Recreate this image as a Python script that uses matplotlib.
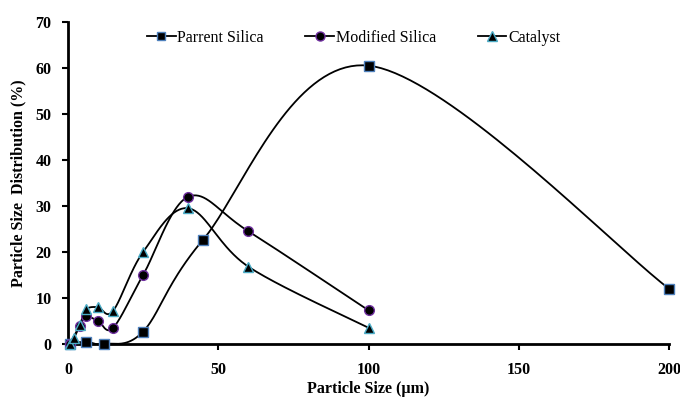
import numpy as np
import matplotlib.pyplot as plt

# Particle size distribution data
parent_x = [0.5, 6, 12, 25, 45, 100, 200]
parent_y = [0, 0.5, 0, 2.7, 22.7, 60.5, 12]

modified_x = [0.5, 4, 6, 10, 15, 25, 40, 60, 100]
modified_y = [0, 4, 6, 5, 3.5, 15, 32, 24.5, 7.3]

catalyst_x = [0.5, 2, 4, 6, 10, 15, 25, 40, 60, 100]
catalyst_y = [0, 1.3, 4.2, 7.5, 8, 7.2, 20, 29.5, 16.8, 3.5]

x_ticks = [0, 50, 100, 150, 200]
y_ticks = [0, 10, 20, 30, 40, 50, 60, 70]


def smooth(xs, ys, n=40):
    # Catmull-Rom style smoothing, like Excel's smoothed line
    p = np.column_stack([xs, ys]).astype(float)
    out = [p[0]]
    for i in range(len(p) - 1):
        p0 = p[i - 1] if i > 0 else p[i]
        p1, p2 = p[i], p[i + 1]
        p3 = p[i + 2] if i + 2 < len(p) else p[i + 1]
        c1 = p1 + (p2 - p0) / 6
        c2 = p2 - (p3 - p1) / 6
        t = np.linspace(0, 1, n)[1:, None]
        seg = ((1 - t) ** 3) * p1 + 3 * ((1 - t) ** 2) * t * c1 + 3 * (1 - t) * t ** 2 * c2 + t ** 3 * p2
        out.extend(seg)
    out = np.array(out)
    return out[:, 0], out[:, 1]


plt.rcParams['font.family'] = 'Liberation Serif'

fig = plt.figure(figsize=(6.8, 3.99), dpi=100)
ax = fig.add_axes([0.1, 0.138, 0.884, 0.807])

series = [
    (parent_x, parent_y, 's', '#4F81BD', 'Parrent Silica', 6.5),
    (modified_x, modified_y, 'o', '#7030A0', 'Modified Silica', 7),
    (catalyst_x, catalyst_y, '^', '#4BACC6', 'Catalyst', 7),
]
handles = []
for xs, ys, m, ec, label, ms in series:
    sx, sy = smooth(xs, ys)
    ax.plot(sx, sy, color='black', lw=1.3, zorder=2, clip_on=False)
    ax.plot(xs, ys, ls='none', marker=m, ms=ms, mfc='black', mec=ec, mew=1,
            zorder=3, clip_on=False)
    h, = ax.plot([], [], color='black', lw=1.3, marker=m, ms=ms - 0.5,
                 mfc='black', mec=ec, mew=1, label=label)
    handles.append(h)

ax.set_xlim(0, 200)
ax.set_ylim(0, 70)
ax.set_xticks(x_ticks)
ax.set_yticks(y_ticks)
ax.spines['top'].set_visible(False)
ax.spines['right'].set_visible(False)
ax.spines['left'].set_linewidth(2)
ax.spines['bottom'].set_linewidth(2)
ax.tick_params(direction='out', length=4, width=1.5, labelsize=11.5)
ax.tick_params(axis='x', pad=9)
ax.tick_params(axis='y', pad=8)
for lab in ax.get_xticklabels() + ax.get_yticklabels():
    lab.set_fontweight('bold')

ax.set_xlabel('Particle Size (µm)', fontsize=11.5, fontweight='bold', labelpad=2)
ax.set_ylabel('Particle Size  Distribution (%)', fontsize=11.5, fontweight='bold', labelpad=6)

fig.legend(handles=handles, loc='center', bbox_to_anchor=(0.52, 0.905), ncol=3,
           frameon=False, fontsize=11.5, handlelength=1.8, handletextpad=0.1,
           columnspacing=2.6)

plt.savefig('out.png', dpi=100)
